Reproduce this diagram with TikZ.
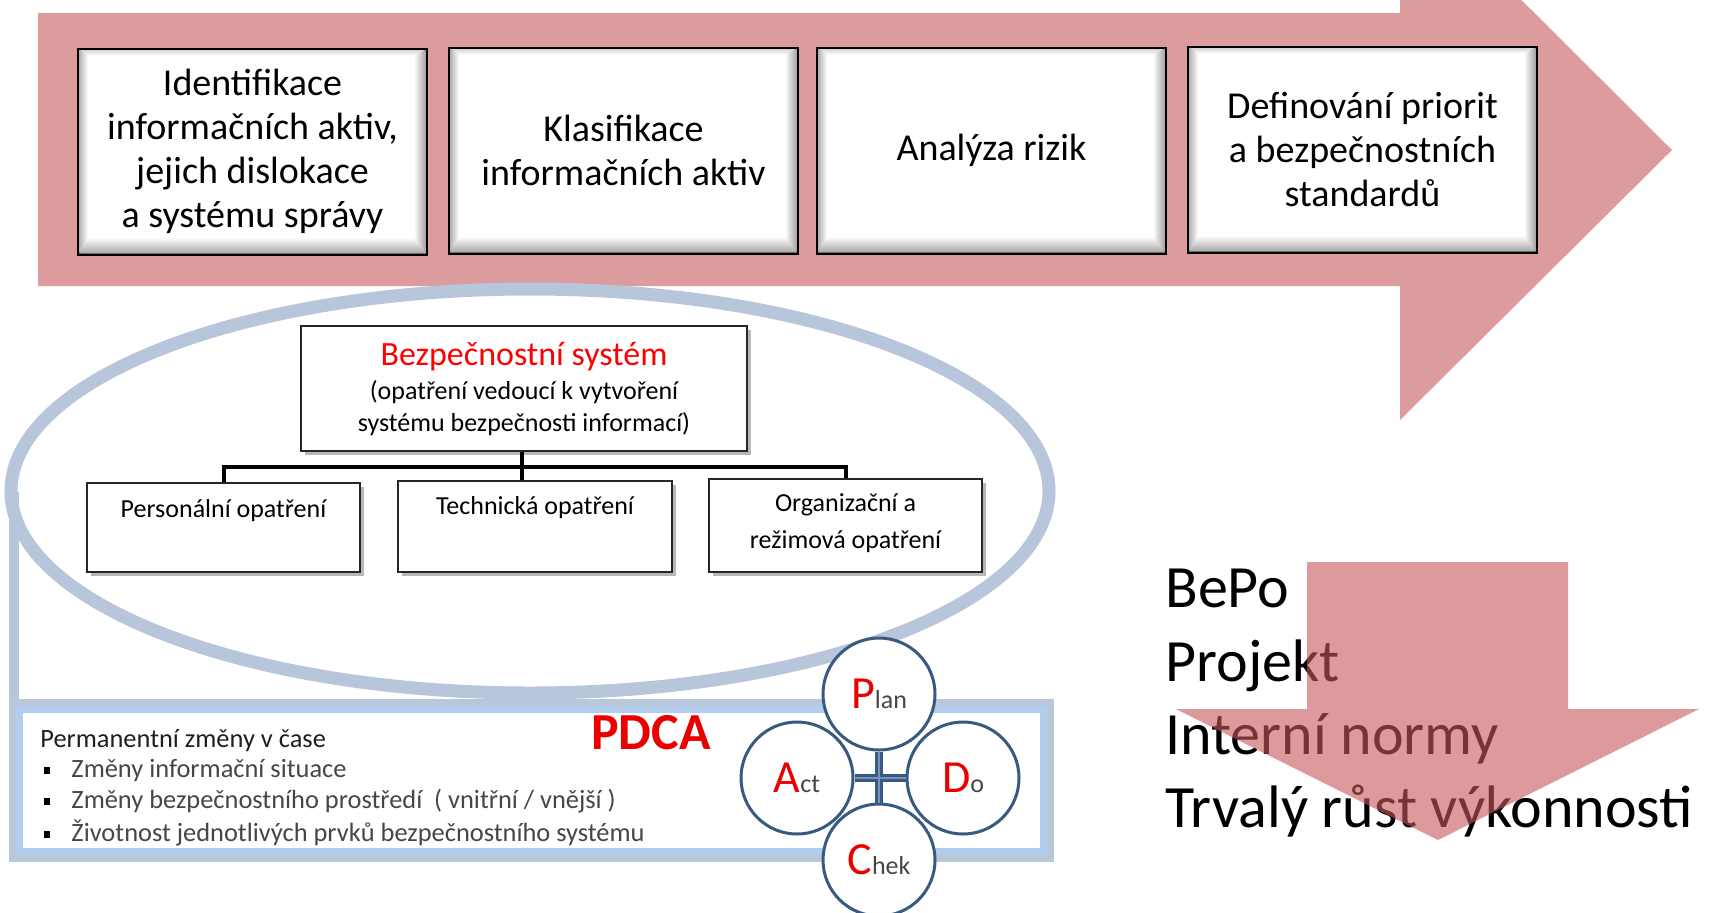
\documentclass[tikz,border=0pt]{standalone}
\usepackage{fontspec}
\setmainfont{Carlito}
\usetikzlibrary{shadows,calc}

\definecolor{arrowpink}{RGB}{220,155,157}
\definecolor{arrowred}{RGB}{197,88,92}
\definecolor{ringblue}{RGB}{183,198,218}
\definecolor{frameouter}{RGB}{185,199,219}
\definecolor{frameinner}{RGB}{178,205,238}
\definecolor{pdcablue}{RGB}{56,89,128}
\definecolor{pdcalight}{RGB}{120,148,185}
\definecolor{pdcared}{RGB}{235,0,0}
\definecolor{itemgray}{RGB}{70,70,70}

\newcommand\itembullet{\textcolor{black}{\rule[1.6pt]{3pt}{3.6pt}}}

% white step box with a bevelled inner frame
\newcommand\bevelframe[1]{%
  \shade[top color=gray!35, bottom color=white]
    ($(#1.north west)+(0.5pt,-0.5pt)$) -- ($(#1.north east)+(-0.5pt,-0.5pt)$)
    -- ($(#1.north east)+(-6.5pt,-3.5pt)$) -- ($(#1.north west)+(5pt,-3.5pt)$) -- cycle;
  \shade[left color=gray!60, right color=white]
    ($(#1.north west)+(0.5pt,-0.5pt)$) -- ($(#1.north west)+(5pt,-3.5pt)$)
    -- ($(#1.south west)+(5pt,8.5pt)$) -- ($(#1.south west)+(0.5pt,0.5pt)$) -- cycle;
  \shade[left color=white, right color=gray!75]
    ($(#1.north east)+(-0.5pt,-0.5pt)$) -- ($(#1.north east)+(-6.5pt,-3.5pt)$)
    -- ($(#1.south east)+(-6.5pt,8.5pt)$) -- ($(#1.south east)+(-0.5pt,0.5pt)$) -- cycle;
  \shade[top color=white, bottom color=gray!70]
    ($(#1.south west)+(0.5pt,0.5pt)$) -- ($(#1.south west)+(5pt,8.5pt)$)
    -- ($(#1.south east)+(-6.5pt,8.5pt)$) -- ($(#1.south east)+(-0.5pt,0.5pt)$) -- cycle;
  \draw[line width=1pt] (#1.north west) rectangle (#1.south east);
}

\tikzset{
  stepbox/.style={draw=black, line width=1pt, fill=white, minimum width=173.5pt,
    minimum height=102pt, align=center, inner sep=0pt,
    font=\fontsize{19}{22}\selectfont},
  orgbox/.style={draw=black!85, line width=0.8pt, fill=white, inner sep=0pt,
    drop shadow={shadow xshift=2pt, shadow yshift=-2pt, opacity=0.4, fill=black!70}},
  orgtext/.style={align=center, inner sep=0pt, font=\fontsize{13}{18.5}\selectfont},
  tree/.style={line width=2pt, black},
  itemtext/.style={anchor=base west, inner sep=0pt, text=itemgray,
    font=\fontsize{13.2}{15}\selectfont},
  pdcacircle/.style={circle, draw=pdcablue, line width=1.5pt, fill=white,
    minimum size=56pt, inner sep=0pt},
  pdcalink/.style={line width=4pt, pdcablue},
  bigline/.style={anchor=base west, inner sep=0pt, font=\fontsize{30}{36}\selectfont},
}

\begin{document}
\begin{tikzpicture}[x=0.5pt, y=-0.5pt]
\useasboundingbox (0,0) rectangle (1711,912);
\clip (0,0) rectangle (1711,912);
\fill[white] (0,0) rectangle (1711,912);

% process arrow
\fill[arrowpink] (38,13) -- (1400,13) -- (1400,-121) -- (1672,150)
  -- (1400,420) -- (1400,286) -- (38,286) -- cycle;

% process steps
\node[stepbox] (s1) at (252.5,151.5) {Identifikace\\informačních aktiv,\\jejich dislokace\\a systému správy};
\node[stepbox] (s2) at (623.5,150.5) {Klasifikace\\informačních aktiv};
\node[stepbox] (s3) at (991.5,150.5) {Analýza rizik};
\node[stepbox] (s4) at (1362.5,149.5) {Definování priorit\\a bezpečnostních\\standardů};
\bevelframe{s1}
\bevelframe{s2}
\bevelframe{s3}
\bevelframe{s4}

% left bracket band and the security ring
\draw[line width=5pt, ringblue] (14,492) -- (14,702);
\draw[line width=6.5pt, ringblue] (530,491) ellipse [x radius=259.5pt, y radius=101pt];

% organisational tree
\node[orgbox, minimum width=223pt, minimum height=62.5pt, align=center,
      font=\fontsize{13}{16}\selectfont] (org) at (524,388.5)
  {{\fontsize{17}{17}\selectfont\color{red}Bezpečnostní systém}\\[1pt]
   (opatření vedoucí k vytvoření\\systému bezpečnosti informací)};
\node[orgbox, minimum width=136.5pt, minimum height=44.5pt] (c1) at (223.5,527.5) {};
\node[orgbox, minimum width=137pt, minimum height=45.5pt] (c2) at (535,526.5) {};
\node[orgbox, minimum width=136.5pt, minimum height=46.5pt] (c3) at (845.5,525.5) {};
\node[orgtext] (t1) at (223.5,511) {Personální opatření};
\node[orgtext] (t2) at (535,508) {Technická opatření};
\node[orgtext] (t3) at (845.5,523.5) {Organizační a\\režimová opatření};
\coordinate (split) at (522,467);
\draw[tree] (org.south -| split) -- (c2.north -| split);
\draw[tree] (c1.north) |- (split) -| (c3.north);

% permanent change frame
\fill[white] (9,699) rectangle (1054,862);
\node[anchor=base west, inner sep=0pt, text=black!88, font=\fontsize{13.2}{15}\selectfont]
  (ptitle) at (40,747) {Permanentní změny v čase};
\node[itemtext] (i1) at (44,777) {\makebox[13.5pt][l]{\itembullet}Změny informační situace};
\node[itemtext] (i2) at (44,808) {\makebox[13.5pt][l]{\itembullet}Změny bezpečnostního prostředí\ \ ( vnitřní / vnější )};
\node[itemtext] (i3) at (44,841) {\makebox[13.5pt][l]{\itembullet}Životnost jednotlivých prvků bezpečnostního systému};
\draw[line width=3.5pt, frameouter] (12.5,702.5) rectangle (1050.5,858.5);
\draw[line width=3.5pt, frameinner] (19.5,709.5) rectangle (1043.5,851.5);

\node[inner sep=0pt, text=pdcared, font=\fontsize{26}{26}\selectfont\bfseries] (pdca) at (651,733) {PDCA};

% PDCA cycle
\node[pdcacircle] (plan) at (879,694) {};
\node[pdcacircle] (chek) at (879,860) {};
\node[pdcacircle] (act) at (797,778) {};
\node[pdcacircle] (do) at (963,778) {};
\draw[pdcalink] (act.east) -- (do.west);
\draw[pdcalink] (plan.south) -- (chek.north);
\draw[line width=1.2pt, pdcalight] (act.east) -- (do.west);
\draw[line width=1.2pt, pdcalight] (plan.south) -- (chek.north);
\node[inner sep=0pt, text=itemgray] at (plan) {{\fontsize{23}{23}\selectfont\color{pdcared}P}\fontsize{13}{13}\selectfont lan};
\node[inner sep=0pt, text=itemgray] at (do) {{\fontsize{23}{23}\selectfont\color{pdcared}D}\fontsize{13}{13}\selectfont o};
\node[inner sep=0pt, text=itemgray] at (chek) {{\fontsize{23}{23}\selectfont\color{pdcared}C}\fontsize{13}{13}\selectfont hek};
\node[inner sep=0pt, text=itemgray] at (act) {{\fontsize{23}{23}\selectfont\color{pdcared}A}\fontsize{13}{13}\selectfont ct};

% outcomes
\node[bigline] (bepo) at (1165,607) {BePo};
\node[bigline] (proj) at (1165,681) {Projekt};
\node[bigline] (norm) at (1165,754) {Interní normy};
\node[bigline] (rust) at (1165,827) {Trvalý růst výkonnosti};

% translucent downward arrow over the outcomes
\fill[arrowred, opacity=0.6] (1307,562) -- (1568,562) -- (1568,709) -- (1699,709)
  -- (1438,840) -- (1176,709) -- (1307,709) -- cycle;
\end{tikzpicture}
\end{document}
